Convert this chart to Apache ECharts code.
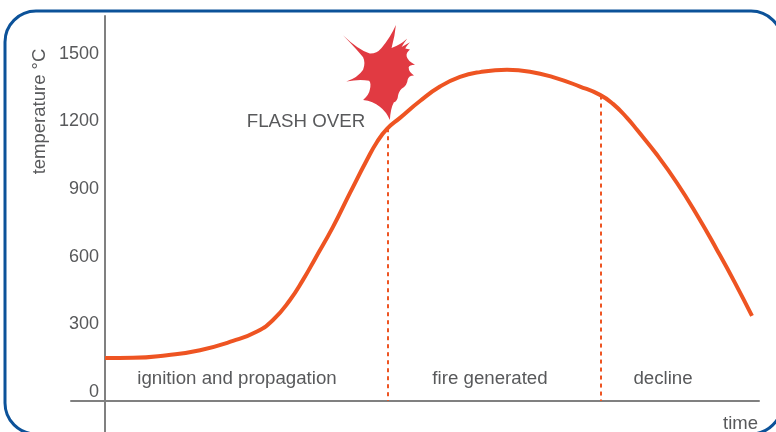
<!DOCTYPE html>
<html>
<head>
<meta charset="utf-8">
<title>Fire curve</title>
<style>
  html, body { margin: 0; padding: 0; background: #fff; }
  #chart { width: 776px; height: 432px; }
</style>
</head>
<body>
<div id="chart"></div>
<script src="https://cdn.jsdelivr.net/npm/echarts@6/dist/echarts.min.js"></script>
<script>
// values, time has no unit in the original
const curveTime = [0, 28, 62, 95, 128, 152, 168, 185, 198, 210, 228, 245, 262, 272, 282, 295, 315, 335, 355, 375, 402, 425, 448, 475, 495, 508, 522, 532, 552, 572, 592, 612, 630, 647]
const curveTemp = [190, 191, 203, 225, 266, 308, 359, 448, 537, 630, 772, 923, 1070, 1149, 1207, 1256, 1331, 1395, 1438, 1459, 1469, 1461, 1437, 1395, 1358, 1318, 1256, 1203, 1092, 967, 825, 670, 524, 377]
const tempTicks = [0, 300, 600, 900, 1200, 1500]
const phaseNames = ['ignition and propagation', 'fire generated', 'decline']
const phaseTime = [132, 385, 558]
const phaseTemp = [98, 98, 98]
const boundaryTime = [283, 496]
const boundaryTemp = [1210, 1355]
const flashName = 'FLASH OVER'
const flashLabelAt = [201, 1239]
const flashStarAt = [274, 1457]

const textColor = '#58595b'
const axisColor = '#808080'
const curveColor = '#ee5422'
const fontFamily = '"Liberation Sans", Arial, sans-serif'

const starPath = 'path://M40 62Q85 105 120 117Q140 118 155 100Q180 72 198 32Q195 65 185 100Q210 92 232 72Q222 85 215 97L240 83Q228 96 226 102L240 105Q228 115 230 125Q232 138 255 150Q238 150 236 158Q236 172 252 182Q236 182 233 195Q232 212 215 222Q205 232 203 250Q198 262 192 262Q182 280 180 315Q170 290 150 275Q130 258 100 255Q118 240 120 225Q125 205 118 198Q90 192 50 200Q85 188 100 165Q108 145 100 128Q85 108 40 62Z'

const chart = echarts.init(document.getElementById('chart'))

chart.setOption({
  animation: false,
  backgroundColor: '#fff',
  grid: { left: 71, right: 17, top: 16, bottom: 0 },
  xAxis: {
    type: 'value',
    min: -34,
    max: 654,
    axisLine: { show: true, lineStyle: { color: axisColor, width: 2 } },
    axisTick: { show: false },
    axisLabel: { show: false },
    splitLine: { show: false }
  },
  yAxis: {
    type: 'value',
    min: -138,
    max: 1708,
    axisLine: { show: true, lineStyle: { color: axisColor, width: 2 } },
    axisTick: { show: false },
    splitLine: { show: false },
    axisLabel: {
      customValues: tempTicks,
      formatter: v => String(v),
      color: textColor,
      fontFamily: fontFamily,
      fontSize: 18,
      margin: -28,
      verticalAlign: 'bottom',
      lineHeight: 18
    }
  },
  graphic: [
    {
      type: 'rect',
      z: -1,
      shape: { x: 5, y: 11, width: 777, height: 423, r: 31 },
      style: { fill: 'none', stroke: '#0c5299', lineWidth: 3 }
    },
    {
      type: 'text',
      x: 40,
      y: 111.5,
      rotation: Math.PI / 2,
      style: {
        text: 'temperature °C',
        fill: textColor,
        font: '18.5px ' + fontFamily,
        align: 'center',
        verticalAlign: 'middle'
      }
    },
    {
      type: 'text',
      x: 758,
      y: 424,
      style: {
        text: 'time',
        fill: textColor,
        font: '18.5px ' + fontFamily,
        align: 'right',
        verticalAlign: 'middle'
      }
    }
  ],
  series: [
    {
      type: 'line',
      data: curveTime.map((t, i) => [t, curveTemp[i]]),
      smooth: 0.5,
      symbol: 'none',
      silent: true,
      lineStyle: { color: curveColor, width: 4, cap: 'butt' },
      markLine: {
        silent: true,
        symbol: 'none',
        label: { show: false },
        lineStyle: { color: curveColor, width: 2, type: [4, 4] },
        data: boundaryTime.map((t, i) => [{ coord: [t, boundaryTemp[i]] }, { coord: [t, 0] }])
      },
      markPoint: {
        silent: true,
        symbol: starPath,
        symbolSize: [72, 95],
        symbolKeepAspect: false,
        itemStyle: { color: '#e13a42' },
        label: { show: false },
        data: [{ coord: flashStarAt }]
      }
    },
    {
      type: 'scatter',
      silent: true,
      symbolSize: 0,
      itemStyle: { opacity: 1 },
      label: {
        show: true,
        position: 'inside',
        color: textColor,
        fontFamily: fontFamily,
        fontSize: 18.7,
        formatter: p => p.data.name
      },
      data: phaseNames.map((n, i) => ({ name: n, value: [phaseTime[i], phaseTemp[i]] }))
        .concat([{ name: flashName, value: flashLabelAt }])
    }
  ]
})
</script>
</body>
</html>
